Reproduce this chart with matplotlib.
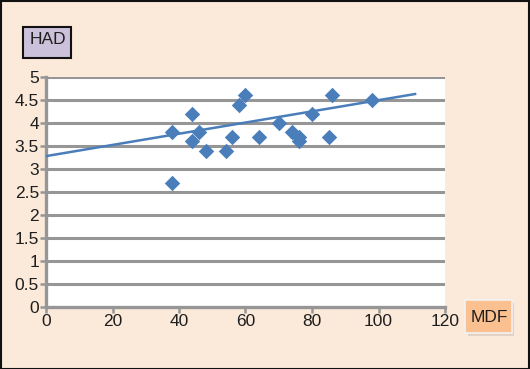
import numpy as np
import matplotlib
matplotlib.use("Agg")
import matplotlib.pyplot as plt
from matplotlib.patches import Rectangle

# MDF vs HAD scatter values
mdf = [38, 38, 44, 44, 46, 48, 54, 56, 58, 60, 64, 70, 74, 76, 76, 80, 85, 86, 98]
had = [3.8, 2.7, 4.2, 3.6, 3.8, 3.4, 3.4, 3.7, 4.4, 4.6, 3.7, 4.0, 3.8, 3.7, 3.6, 4.2, 3.7, 4.6, 4.5]
# trend line as drawn in the chart (end points)
trend_x = [0, 111]
trend_y = [3.28, 4.63]
x_ticks = [0, 20, 40, 60, 80, 100, 120]
y_ticks = [0, 0.5, 1, 1.5, 2, 2.5, 3, 3.5, 4, 4.5, 5]

BG = "#FBE9D9"
BLUE = "#4A7EBB"
GRID = "#969696"

plt.rcParams["font.family"] = ["Liberation Sans", "DejaVu Sans"]

fig = plt.figure(figsize=(5.30, 3.69), dpi=100, facecolor=BG)
ax = fig.add_axes([46 / 530, 1 - 307 / 369, (445 - 46) / 530, (307 - 77) / 369])
ax.set_facecolor("white")

ax.set_xlim(0, 120)
ax.set_ylim(0, 5)
ax.set_xticks(x_ticks)
ax.set_yticks(y_ticks)
ax.set_yticklabels([f"{v:g}" for v in y_ticks])

for v in y_ticks[1:]:
    ax.axhline(v, color=GRID, lw=2.2, zorder=1)

for side in ["top", "right"]:
    ax.spines[side].set_visible(False)
for side in ["left", "bottom"]:
    ax.spines[side].set_color(GRID)
    ax.spines[side].set_linewidth(2.4)
ax.tick_params(axis="both", colors=GRID, length=4, width=1.8, labelsize=12.5,
               labelcolor="#1E1E1E", pad=1)

ax.plot(trend_x, trend_y, color=BLUE, lw=1.8, zorder=3)
ax.scatter(mdf, had, marker="D", s=62, color=BLUE, zorder=4, linewidths=0)

# axis title boxes
fig.patches.append(Rectangle((23 / 530, 1 - 58 / 369), 48 / 530, 31 / 369,
                             transform=fig.transFigure, facecolor="#CCC1DA",
                             edgecolor="#111111", lw=1.5))
fig.text(48 / 530, 1 - 40 / 369, "HAD", ha="center", va="center", fontsize=12.5,
         color="#1E1E1E")

fig.patches.append(Rectangle((468 / 530, 1 - 336 / 369), 46 / 530, 33 / 369,
                             transform=fig.transFigure, facecolor="#E2D2C4",
                             edgecolor="none"))
fig.patches.append(Rectangle((465 / 530, 1 - 333 / 369), 47 / 530, 33 / 369,
                             transform=fig.transFigure, facecolor="#FAC090",
                             edgecolor="#F2F2F2", lw=1.2))
fig.text(489 / 530, 1 - 317 / 369, "MDF", ha="center", va="center", fontsize=12.5,
         color="#1E1E1E")

# outer border
fig.patches.append(Rectangle((0.001, 0.001), 0.997, 0.997, transform=fig.transFigure,
                             facecolor="none", edgecolor="#111111", lw=1.5))

fig.savefig("out.png", dpi=100, facecolor=BG)
